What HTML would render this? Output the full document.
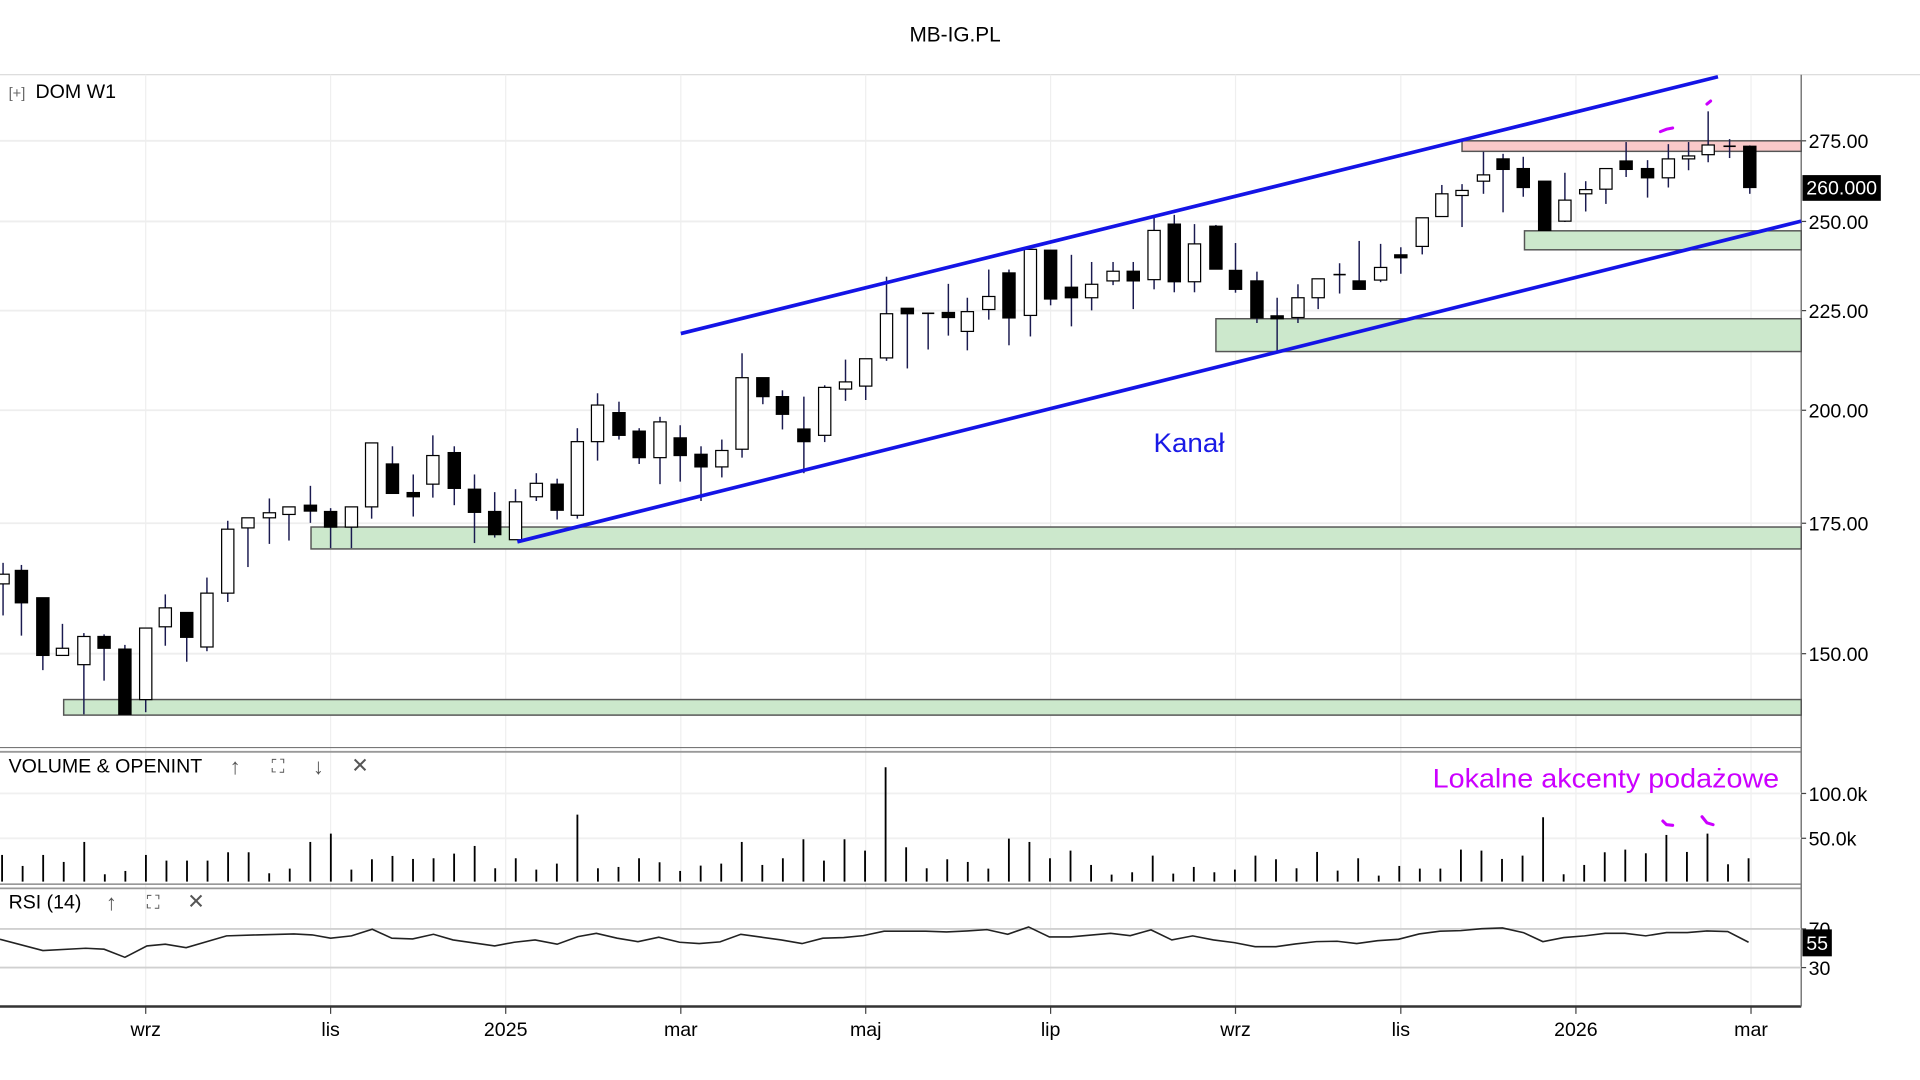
<!DOCTYPE html>
<html><head><meta charset="utf-8"><style>
html,body{margin:0;padding:0;background:#fff;}
svg{display:block;font-family:"Liberation Sans",sans-serif;}
</style></head><body>
<svg id="s" width="1920" height="1080" viewBox="0 0 1568 882" preserveAspectRatio="none" xmlns="http://www.w3.org/2000/svg">
<rect width="1568" height="882" fill="#fff"/>
<g id="grid"></g>
<g id="zones"></g>
<g id="candles"></g>
<g id="lines"></g>
<g id="vol"></g>
<g id="rsi"></g>
<text x="780" y="34" font-size="17" text-anchor="middle" fill="#000">MB-IG.PL</text>
<text x="7" y="80" font-size="12" fill="#666">[+]</text>
<text x="29" y="80" font-size="16" fill="#000">DOM  W1</text>
<text x="942" y="369" font-size="22" fill="#1a1ae6" textLength="58" lengthAdjust="spacingAndGlyphs">Kanał</text>
<text x="7" y="631" font-size="16" fill="#000">VOLUME &amp; OPENINT</text>
<text x="192" y="632" font-size="18" font-weight="bold" fill="#555" text-anchor="middle">↑</text>
<text x="227" y="631" font-size="15" fill="#555" text-anchor="middle">⛶</text>
<text x="260" y="632" font-size="18" font-weight="bold" fill="#555" text-anchor="middle">↓</text>
<text x="294" y="631" font-size="17" fill="#555" text-anchor="middle">✕</text>
<text x="1170" y="643" font-size="22" fill="#cc00ff" textLength="283" lengthAdjust="spacingAndGlyphs">Lokalne akcenty podażowe</text>
<text x="7" y="742" font-size="16" fill="#000">RSI (14)</text>
<text x="91" y="743" font-size="18" font-weight="bold" fill="#555" text-anchor="middle">↑</text>
<text x="125" y="742" font-size="15" fill="#555" text-anchor="middle">⛶</text>
<text x="160" y="742" font-size="17" fill="#555" text-anchor="middle">✕</text>
</svg>
<script>
var NS="http://www.w3.org/2000/svg";
function el(g,t,a){var e=document.createElementNS(NS,t);for(var k in a)e.setAttribute(k,a[k]);document.getElementById(g).appendChild(e);return e;}
function txt(g,x,y,s,str,a){var e=el(g,'text',Object.assign({x:x,y:y,'font-size':s},a||{}));e.textContent=str;return e;}
el('grid','line',{x1:0,y1:61,x2:1568,y2:61,stroke:'#d8d8d8','stroke-width':1});
var months=[[119,'wrz'],[270,'lis'],[413,'2025'],[556,'mar'],[707,'maj'],[858,'lip'],[1009,'wrz'],[1144,'lis'],[1287,'2026'],[1430,'mar']];
months.forEach(function(m){
 el('grid','line',{x1:m[0],y1:61,x2:m[0],y2:822,stroke:'#efefef','stroke-width':1});
 el('grid','line',{x1:m[0],y1:822,x2:m[0],y2:828,stroke:'#444','stroke-width':1});
 txt('grid',m[0],846,16,m[1],{'text-anchor':'middle',fill:'#000'});
});
function py(p){return 115+(Math.log(275)-Math.log(p))*691;}
[275,250,225,200,175,150].forEach(function(p){var y=py(p);
 el('grid','line',{x1:0,y1:y,x2:1471,y2:y,stroke:'#eeeeee','stroke-width':1.5});
 el('grid','line',{x1:1471,y1:y,x2:1475,y2:y,stroke:'#444','stroke-width':1});
 txt('grid',1477,y+6,16,p.toFixed(2),{fill:'#000'});
});
el('grid','line',{x1:0,y1:610.5,x2:1471,y2:610.5,stroke:'#777','stroke-width':1});
el('grid','line',{x1:0,y1:614,x2:1471,y2:614,stroke:'#999','stroke-width':1.5});
el('grid','line',{x1:0,y1:722,x2:1471,y2:722,stroke:'#777','stroke-width':1});
el('grid','line',{x1:0,y1:725.5,x2:1471,y2:725.5,stroke:'#999','stroke-width':1.5});
el('grid','line',{x1:0,y1:822,x2:1471,y2:822,stroke:'#333','stroke-width':2});
el('grid','line',{x1:1471,y1:61,x2:1471,y2:822,stroke:'#777','stroke-width':1.2});
[[648,'100.0k'],[684.6,'50.0k']].forEach(function(v){
 el('grid','line',{x1:0,y1:v[0],x2:1471,y2:v[0],stroke:'#f0f0f0','stroke-width':1.5});
 el('grid','line',{x1:1471,y1:v[0],x2:1475,y2:v[0],stroke:'#444','stroke-width':1});
 txt('grid',1477,v[0]+6,16,v[1],{fill:'#000'});
});
[[758.6,'70'],[790.2,'30']].forEach(function(v){
 el('grid','line',{x1:0,y1:v[0],x2:1471,y2:v[0],stroke:'#d0d0d0','stroke-width':1.5});
 el('grid','line',{x1:1471,y1:v[0],x2:1475,y2:v[0],stroke:'#444','stroke-width':1});
 txt('grid',1477,v[0]+6,16,v[1],{fill:'#000'});
});
function zone(x1,y1,x2,y2,f){el('zones','rect',{x:x1,y:y1,width:x2-x1,height:y2-y1,fill:f,stroke:'#555','stroke-width':1.2});}
zone(254,430.4,1471,448.3,'#cce8cc');
zone(52,571.3,1471,584,'#cce8cc');
zone(993,260.3,1471,287.1,'#cce8cc');
zone(1245,188.5,1471,204,'#cce8cc');
zone(1194,115,1471,123.6,'#f9c9c9');
var C1=[[5,1222,1245,1195,1320,'w'],[35,1213,1290,1200,1368,'b'],[70,1278,1415,1278,1450,'b'],[102,1398,1415,1340,1415,'w'],[137,1370,1437,1362,1555,'w'],[170,1370,1398,1365,1475,'b'],[204,1400,1555,1390,1555,'b'],[238,1350,1520,1350,1550,'w'],[270,1302,1347,1270,1392,'w'],[305,1313,1372,1313,1430,'b'],[338,1267,1395,1230,1405,'w'],[372,1115,1267,1095,1288,'w'],[405,1088,1112,1088,1205,'w'],[440,1076,1088,1042,1150,'w'],[472,1062,1080,1062,1142,'w'],[507,1058,1072,1012,1100,'b'],[540,1073,1110,1065,1160,'b'],[574,1062,1110,1062,1160,'w'],[607,910,1062,910,1090,'w'],[641,960,1030,918,1030,'b'],[675,1028,1038,985,1085,'b'],[707,940,1008,892,1040,'w'],[742,933,1018,918,1058,'b'],[775,1020,1075,985,1148,'b'],[808,1073,1128,1027,1135,'b'],[842,1050,1140,1020,1140,'w'],[876,1006,1038,982,1048,'w'],[910,1008,1070,995,1092,'b'],[943,907,1082,875,1090,'w'],[976,820,907,792,952,'w'],[1011,838,892,812,902,'b'],[1044,882,945,875,960,'b'],[1078,860,945,848,1008,'w'],[1111,898,940,868,1002,'b'],[1145,937,967,918,1048,'b'],[1179,928,967,902,992,'w'],[1212,755,925,697,945,'w'],[1246,755,800,755,818,'b'],[1278,800,842,785,878,'b'],[1313,877,907,800,982,'b'],[1347,778,892,773,908,'w'],[1381,765,782,712,810,'w'],[1414,710,775,710,808,'w'],[1448,603,708,515,715,'w'],[1482,590,603,590,733,'b'],[1516,602,604,602,688,'d'],[1549,600,612,532,655,'b']];
var C2=[[12,598,645,565,690,'w'],[47,562,593,498,617,'w'],[80,506,613,498,678,'b'],[115,450,607,450,657,'w'],[148,452,568,452,583,'b'],[182,540,565,463,633,'b'],[215,533,565,480,595,'w'],[250,502,525,480,535,'w'],[283,502,525,480,592,'b'],[317,405,522,370,545,'w'],[350,390,527,368,552,'b'],[383,437,527,390,552,'w'],[418,395,497,392,497,'b'],[450,500,545,435,553,'b'],[485,525,613,503,625,'b'],[518,608,615,565,692,'b'],[552,565,612,533,625,'w'],[585,520,565,520,592,'w'],[620,510,512,483,555,'d'],[652,525,545,430,545,'b'],[687,493,523,437,528,'w'],[720,463,470,445,508,'b'],[755,375,443,375,462,'w'],[787,318,372,297,372,'w'],[820,310,322,295,397,'w'],[855,273,288,218,318,'w'],[887,235,260,223,362,'b'],[920,258,303,230,325,'b'],[955,288,405,288,405,'b'],[988,333,383,268,385,'w'],[1022,308,318,288,360,'w'],[1055,258,307,258,342,'w'],[1088,240,260,195,278,'b'],[1123,258,280,238,327,'b'],[1157,235,280,200,303,'w'],[1190,228,235,195,262,'w'],[1222,202,225,122,243,'w'],[1257,205,205,188,233,'d'],[1290,205,303,203,318,'b']];
function Y(o){return 49+o/2.91;}
function drawC(c,off){var x=off+c[0]/2;
 el('candles','line',{x1:x,y1:Y(c[3]),x2:x,y2:Y(c[4]),stroke:'#1a1a50','stroke-width':1.2});
 var t=Y(c[1]),b=Y(c[2]);
 if(c[5]=='d'){el('candles','line',{x1:x-5,y1:t,x2:x+5,y2:t,stroke:'#000','stroke-width':1.3});return;}
 if(b-t<2)b=t+2;
 el('candles','rect',{x:x-5,y:t,width:10,height:b-t,fill:c[5]=='b'?'#000':'#fff',stroke:'#000','stroke-width':1});
}
C1.forEach(function(c){drawC(c,0);});C2.forEach(function(c){drawC(c,784);});
el('lines','line',{x1:556,y1:272.4,x2:1403,y2:62.7,stroke:'#1414e6','stroke-width':3});
el('lines','line',{x1:422.5,y1:442.5,x2:1471,y2:180.6,stroke:'#1414e6','stroke-width':3});
el('lines','path',{d:'M1356,107.5 L1361,105.5 L1366,104.5',stroke:'#cc00ff','stroke-width':2.5,fill:'none','stroke-linecap':'round'});
el('lines','path',{d:'M1394,85 L1397,82.5',stroke:'#cc00ff','stroke-width':2.5,fill:'none','stroke-linecap':'round'});
el('lines','path',{d:'M1358,670.5 L1361,673.5 L1366,674',stroke:'#cc00ff','stroke-width':2.5,fill:'none','stroke-linecap':'round'});
el('lines','path',{d:'M1390,667 L1394,672 L1399,673.5',stroke:'#cc00ff','stroke-width':2.5,fill:'none','stroke-linecap':'round'});
el('lines','rect',{x:1472,y:143,width:64,height:21,fill:'#000'});
txt('lines',1504,159,16,'260.000',{'text-anchor':'middle',fill:'#fff'});
var V=[345,378,345,366,306,403,393,345,362,362,362,337,337,400,386,306,281,389,358,348,357,355,341,318,385,355,389,371,224,385,381,355,367,393,377,371,306,375,355,298,362,298,332,82,322,385,358,366,386,296,306,355,332,375,404,397,347,401,381,397,389,347,358,385,336,392,355,407,378,386,386,329,332,357,347,232,403,375,337,329,340,285,336,281,373,355];
function VY(o){return 604.3+o/3.674;}
V.forEach(function(v,i){var x=1428-16.78*(85-i);
 el('vol','line',{x1:x,y1:VY(v),x2:x,y2:VY(425),stroke:'#000','stroke-width':1.5});});
var R=[[0,598],[35,632],[70,625],[85,628],[102,652],[120,618],[135,613],[152,623],[185,588],[210,585],[240,582],[255,585],[270,595],[287,588],[304,568],[320,595],[337,597],[354,583],[370,600],[404,618],[420,607],[437,600],[455,613],[472,590],[487,580],[504,595],[521,605],[538,592],[555,607],[571,611],[588,606],[605,583],[622,592],[638,600],[655,611],[672,595],[689,593],[705,587],[722,574],[756,574],[773,576],[790,573],[806,569],[823,583],[840,561],[857,591],[874,591],[907,580],[923,587],[940,570],[957,600],[974,588],[991,600],[1008,608],[1025,620],[1042,620],[1058,612],[1075,605],[1092,604],[1108,611],[1125,602],[1142,598],[1159,582],[1176,574],[1193,572],[1210,566],[1227,564],[1244,578],[1260,605],[1277,593],[1294,588],[1311,580],[1327,580],[1344,588],[1361,578],[1378,578],[1394,573],[1411,575],[1428,607]];
el('rsi','polyline',{points:R.map(function(p){return p[0]+','+VY(p[1]).toFixed(1);}).join(' '),fill:'none',stroke:'#222','stroke-width':1.3});
el('rsi','rect',{x:1472,y:759,width:24,height:22,fill:'#000'});
txt('rsi',1484,776,16,'55',{'text-anchor':'middle',fill:'#fff'});
</script>
</body></html>
